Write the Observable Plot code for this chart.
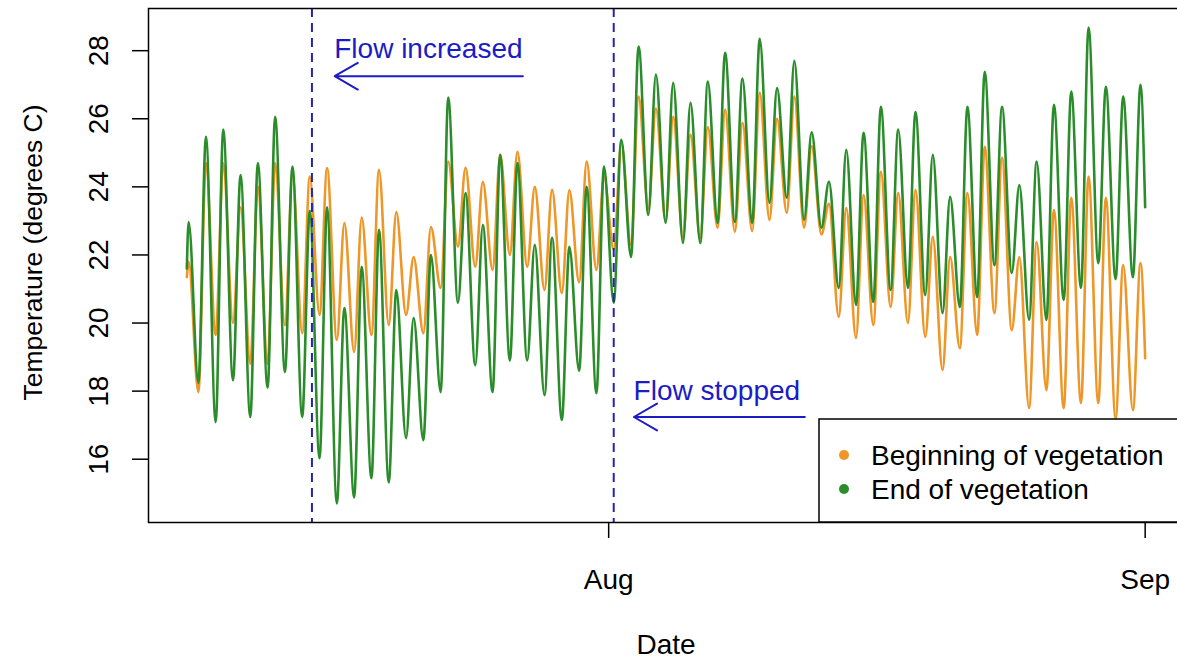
<!DOCTYPE html>
<html>
<head>
<meta charset="utf-8">
<script src="https://cdn.jsdelivr.net/npm/d3@7"></script>
<script src="https://cdn.jsdelivr.net/npm/@observablehq/plot@0.6"></script>
<style>
  html, body { margin: 0; padding: 0; background: #fff; overflow: hidden; }
  #chart { width: 1177px; height: 662px; overflow: hidden; }
  #chart svg { max-width: none !important; }
</style>
</head>
<body>
<div id="chart"></div>
<script>
// Stream temperature logged at two stages of the vegetation season.
const seriesNames = ["Beginning of vegetation", "End of vegetation"];
const seriesColors = ["#EE9628", "#2A8C2A"];

// First and last readings of each logger
const recordStart = "2015-07-07T15:00Z";
const recordEnd = "2015-09-01T00:00Z";
const beginFirst = 21.35, endFirst = 21.6;
const beginLast = 18.97, endLast = 23.4;

// Daily maxima (late afternoon), 7 July .. 31 August
const beginMax = [21.8, 24.7, 24.7, 23.4, 24.0, 24.7, 24.4, 24.3, 24.55, 22.94,
  23.1, 24.5, 23.26, 21.94, 22.82, 24.74, 24.56, 24.15, 24.94, 25.03,
  24.0, 23.91, 23.9, 24.74, 24.3, 25.3, 26.65, 26.3, 26.06, 25.53,
  25.76, 26.26, 25.88, 26.76, 26.0, 26.65, 25.2, 23.5, 23.38, 23.76,
  24.44, 23.82, 23.91, 22.53, 21.94, 23.82, 25.18, 24.85, 21.94, 22.38,
  23.32, 23.68, 24.3, 23.68, 21.7, 21.76];
const endMax = [22.97, 25.47, 25.68, 24.35, 24.7, 26.06, 24.6, 23.3, 23.4, 20.44,
  21.65, 22.74, 20.97, 20.15, 22.0, 26.62, 23.82, 22.88, 24.94, 24.7,
  22.3, 22.5, 22.24, 24.0, 24.6, 25.38, 28.12, 27.3, 27.06, 26.47,
  27.09, 27.94, 27.18, 28.35, 26.9, 27.7, 25.6, 24.15, 25.09, 25.59,
  26.35, 25.68, 26.2, 24.94, 23.71, 26.35, 27.38, 26.35, 24.05, 24.74,
  26.41, 26.8, 28.68, 26.94, 26.65, 27.0];

// Daily minima (early morning), 8 July .. 31 August
const beginMin = [17.97, 19.65, 20.0, 18.8, 18.8, 19.94, 19.7, 20.24, 19.5, 19.15,
  19.65, 19.94, 20.24, 19.7, 21.03, 22.24, 21.65, 21.56, 22.0, 21.65,
  20.97, 20.88, 21.2, 21.56, 22.15, 22.3, 23.35, 23.0, 22.5, 22.5,
  22.8, 22.68, 22.7, 23.03, 23.24, 22.8, 22.6, 20.18, 19.56, 19.94,
  20.47, 20.0, 19.59, 18.62, 19.26, 19.65, 20.29, 19.79, 17.5, 18.03,
  17.5, 17.65, 17.65, 17.2, 17.44];
const endMin = [18.24, 17.09, 18.32, 17.24, 18.1, 18.56, 17.24, 16.03, 14.7, 14.88,
  15.44, 15.32, 16.62, 16.56, 17.97, 20.6, 18.76, 17.97, 18.9, 18.9,
  17.88, 17.15, 18.6, 17.94, 20.6, 21.94, 23.18, 22.94, 22.35, 22.35,
  22.94, 22.97, 22.94, 23.53, 23.68, 23.03, 22.8, 21.03, 20.53, 20.62,
  20.97, 21.03, 20.82, 20.29, 20.47, 20.76, 21.7, 21.47, 20.1, 20.09,
  20.68, 21.03, 21.76, 21.29, 21.35];

// Hours of the daily extremes
const maxHour = 17.5, minHour = 7;

// Flow events and their notes
const flowEvents = [new Date("2015-07-14T20:30Z"), new Date("2015-08-01T07:00Z")];
const notes = [
  {label: "Flow increased", date: "2015-07-21T14:00Z", temp: 27.79,
   from: "2015-07-27T01:00Z", to: "2015-07-16T04:00Z", arrowTemp: 27.25},
  {label: "Flow stopped", date: "2015-08-07T06:00Z", temp: 17.74,
   from: "2015-08-12T08:00Z", to: "2015-08-02T11:00Z", arrowTemp: 17.24}
];

const yTicks = [16, 18, 20, 22, 24, 26, 28];
const xTicks = [new Date("2015-08-01T00:00Z"), new Date("2015-09-01T00:00Z")];

const FONT = "'Liberation Sans', Arial, Helvetica, sans-serif";
const BLUE = "#1c1cc4";
const DASH_BLUE = "#2424b0";

const day0 = new Date("2015-07-07T00:00Z");
const at = (dayIndex, hour) => new Date(+day0 + (dayIndex * 24 + hour) * 3600e3);

function buildSeries(name, first, maxima, minima, last) {
  const rows = [{name, date: new Date(recordStart), temp: first}];
  maxima.forEach((v, i) => {
    rows.push({name, date: at(i, maxHour), temp: v});
    if (i < minima.length) rows.push({name, date: at(i + 1, minHour), temp: minima[i]});
  });
  rows.push({name, date: new Date(recordEnd), temp: last});
  return rows;
}

const begin = buildSeries(seriesNames[0], beginFirst, beginMax, beginMin, beginLast);
const end = buildSeries(seriesNames[1], endFirst, endMax, endMin, endLast);

// Pad both scales by 4% of the data range
const allRows = begin.concat(end);
const [t0, t1] = d3.extent(allRows, d => +d.date);
const [v0, v1] = d3.extent(allRows, d => d.temp);
const tPad = (t1 - t0) * 0.04, vPad = (v1 - v0) * 0.04;

const noLabel = () => "";
const W = 1200, H = 662, ML = 148, MR = 17, MT = 8, MB = 140;

const plot = Plot.plot({
  width: W,
  height: H,
  marginLeft: ML,
  marginRight: MR,
  marginTop: MT,
  marginBottom: MB,
  style: {fontFamily: FONT, fontSize: "28px", background: "#fff", maxWidth: "none", width: `${W}px`, height: `${H}px`},
  x: {type: "utc", domain: [new Date(t0 - tPad), new Date(t1 + tPad)]},
  y: {domain: [v0 - vPad, v1 + vPad]},
  marks: [
    Plot.line(begin, {x: "date", y: "temp", stroke: seriesColors[0], strokeWidth: 2.6, curve: "monotone-x"}),
    Plot.line(end, {x: "date", y: "temp", stroke: seriesColors[1], strokeWidth: 2.6, curve: "monotone-x"}),
    Plot.ruleX(flowEvents, {x: d => d, stroke: DASH_BLUE, strokeWidth: 2, strokeDasharray: "9,6"}),
    Plot.arrow(notes, {
      x1: d => new Date(d.from), x2: d => new Date(d.to),
      y1: "arrowTemp", y2: "arrowTemp",
      stroke: BLUE, strokeWidth: 2, headLength: 20, headAngle: 60
    }),
    Plot.text(notes, {
      x: d => new Date(d.date), y: "temp", text: "label",
      fill: BLUE, fontSize: 28, lineAnchor: "bottom", textAnchor: "middle"
    }),
    Plot.frame({stroke: "#000", strokeWidth: 1.5}),
    // y axis: ticks, rotated labels, title
    Plot.axisY(yTicks, {anchor: "left", tickSize: 16, tickFormat: noLabel, label: null, stroke: "#000", strokeWidth: 1.5}),
    Plot.text(yTicks, {
      y: d => d, text: d => String(d), frameAnchor: "left", dx: -41,
      rotate: -90, lineAnchor: "bottom", textAnchor: "middle", fontSize: 28, fill: "#000"
    }),
    Plot.text(["Temperature (degrees C)"], {
      text: d => d, frameAnchor: "left", dx: -107, dy: -13,
      rotate: -90, lineAnchor: "bottom", textAnchor: "middle", fontSize: 26.5, fill: "#000"
    }),
    // x axis: month ticks, labels, title
    Plot.axisX(xTicks, {anchor: "bottom", tickSize: 16, tickFormat: noLabel, label: null, stroke: "#000", strokeWidth: 1.5}),
    Plot.text(xTicks, {
      x: d => d, text: d => d3.utcFormat("%b")(d), frameAnchor: "bottom", dy: 66,
      lineAnchor: "bottom", textAnchor: "middle", fontSize: 28, fill: "#000"
    }),
    Plot.text(["Date"], {
      text: d => d, frameAnchor: "bottom", dy: 131,
      lineAnchor: "bottom", textAnchor: "middle", fontSize: 28, fill: "#000"
    })
  ]
});

document.getElementById("chart").appendChild(plot);

// Legend box in the bottom-right corner of the panel
const svg = d3.select(plot);
const panelRight = W - MR, panelBottom = H - MB;
const legend = svg.append("g")
  .attr("font-family", FONT).attr("font-size", 28).attr("text-anchor", "start");
legend.append("rect")
  .attr("x", 819).attr("y", panelBottom - 103)
  .attr("width", panelRight - 819).attr("height", 103)
  .attr("fill", "#fff").attr("stroke", "#000").attr("stroke-width", 1.5);
seriesNames.forEach((name, i) => {
  const cy = panelBottom - 67 + i * 34;
  legend.append("circle").attr("cx", 844).attr("cy", cy).attr("r", 5).attr("fill", seriesColors[i]);
  legend.append("text").attr("x", 871).attr("y", cy).attr("dy", "0.34em").attr("fill", "#000").text(name);
});
</script>
</body>
</html>
